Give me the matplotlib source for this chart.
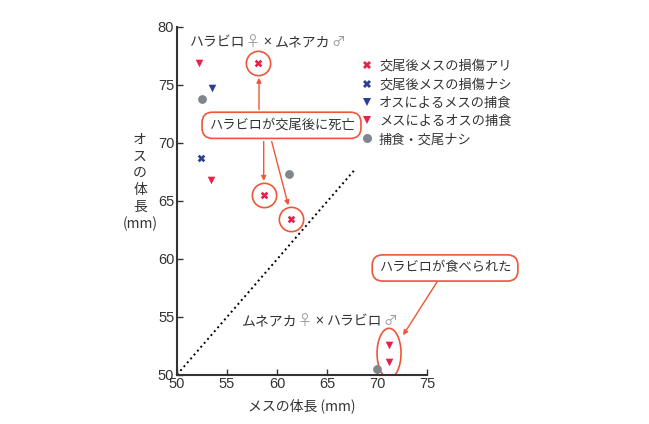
import matplotlib
matplotlib.use("Agg")
import matplotlib.pyplot as plt
from matplotlib.patches import Ellipse
from matplotlib.lines import Line2D

plt.rcParams['font.family'] = ['Noto Sans CJK JP', 'DejaVu Sans']

# data (mm)
injured_f = [58.1, 58.7, 61.4]          # 交尾後メスの損傷アリ
injured_m = [76.9, 65.5, 63.4]
uninjured_f = [52.4]                     # 交尾後メスの損傷ナシ
uninjured_m = [68.7]
male_eats_f = [53.5]                     # オスによるメスの捕食
male_eats_m = [74.7]
female_eats_f = [52.2, 53.4, 71.2, 71.2] # メスによるオスの捕食
female_eats_m = [76.9, 66.8, 52.6, 51.1]
none_f = [52.5, 61.2, 70.0]              # 捕食・交尾ナシ
none_m = [73.8, 67.3, 50.5]

RED = '#e8204a'
BLUE = '#2b3f98'
GRAY = '#80868c'
EDGE = '#f0553a'
TXT = '#333333'
SYM = '#9a9a9a'
FS = 9.5

fig = plt.figure(figsize=(6.49, 4.24), dpi=100)
ax = fig.add_axes([0.2727, 0.1163, 0.3853, 0.8207])

ax.plot([50, 67.8], [50, 67.7], ls=':', color='black', lw=1.4)

ax.scatter(injured_f, injured_m, marker='X', s=30, color=RED, linewidths=0, zorder=3)
ax.scatter(uninjured_f, uninjured_m, marker='X', s=30, color=BLUE, linewidths=0, zorder=3)
ax.scatter(male_eats_f, male_eats_m, marker='v', s=30, color=BLUE, linewidths=0, zorder=3)
ax.scatter(female_eats_f, female_eats_m, marker='v', s=30, color=RED, linewidths=0, zorder=3)
ax.scatter(none_f, none_m, marker='o', s=40, color=GRAY, linewidths=0, zorder=3, clip_on=False)

# circles around injured points
ax.plot(injured_f, injured_m, ls='none', marker='o', ms=17.5, mfc='none',
        mec=EDGE, mew=1.2, zorder=2)
ax.add_patch(Ellipse((71.2, 51.85), 2.4, 4.3, fill=False, ec=EDGE, lw=1.2))

ax.set_xlim(50, 75)
ax.set_ylim(50, 80)
ax.set_xticks([50, 55, 60, 65, 70, 75])
ax.set_yticks([50, 55, 60, 65, 70, 75, 80])
for s in ['top', 'right']:
    ax.spines[s].set_visible(False)
for s in ['left', 'bottom']:
    ax.spines[s].set_linewidth(1.5)
    ax.spines[s].set_color(TXT)
ax.tick_params(direction='in', length=4, width=1, colors=TXT, labelsize=10.5, pad=2)
for lab in ax.get_xticklabels() + ax.get_yticklabels():
    lab.set_fontfamily('Liberation Sans')

ax.set_xlabel('メスの体長 (mm)', fontsize=FS + 0.5, color=TXT, labelpad=5)
fig.text(140 / 649, 1 - 182 / 424, 'オ\nス\nの\n体\n長\n(mm)', fontsize=FS + 0.5, color=TXT,
         ha='center', va='center', linespacing=1.25)

# annotation boxes
bbox = dict(boxstyle='round,pad=0.5,rounding_size=0.8', fc='white', ec=EDGE, lw=1.2)
ax.text(60.45, 71.5, 'ハラビロが交尾後に死亡', fontsize=FS, color=TXT,
        ha='center', va='center', bbox=bbox, zorder=4)
ax.text(76.8, 59.2, 'ハラビロが食べられた', fontsize=FS, color=TXT,
        ha='center', va='center', bbox=bbox, zorder=4)

arrow = dict(arrowstyle='-|>', color=EDGE, lw=1.0, mutation_scale=7, shrinkA=0, shrinkB=0)
for start, end in [((58.2, 72.85), (58.2, 75.6)),
                   ((58.67, 70.1), (58.67, 66.7)),
                   ((59.47, 70.1), (61.13, 64.6)),
                   ((76.0, 58.0), (72.6, 53.4))]:
    ax.annotate('', xy=end, xytext=start, arrowprops=arrow, annotation_clip=False, zorder=3)


# cross labels with lighter sex symbols and a small bold ×
def rich(x, y, parts):
    fig.canvas.draw()
    r = fig.canvas.get_renderer()
    px = x
    for txt, col, size, weight, gap in parts:
        t = fig.text(px / 649, 1 - y / 424, txt, fontsize=size, color=col,
                     fontweight=weight, va='center', ha='left')
        px += t.get_window_extent(r).width + gap


def cross(a, b):
    return [(a, TXT, 10, 'normal', 0), ('♀', SYM, 10, 'normal', 3),
            ('×', TXT, 7, 'bold', 3), (b, TXT, 10, 'normal', 1), ('♂', SYM, 10, 'normal', 0)]


rich(190, 42, cross('ハラビロ', 'ムネアカ'))
rich(242, 321, cross('ムネアカ', 'ハラビロ'))

handles = [
    Line2D([], [], ls='none', marker='X', color=RED, mew=0, ms=6),
    Line2D([], [], ls='none', marker='X', color=BLUE, mew=0, ms=6),
    Line2D([], [], ls='none', marker='v', color=BLUE, mew=0, ms=6),
    Line2D([], [], ls='none', marker='v', color=RED, mew=0, ms=6),
    Line2D([], [], ls='none', marker='o', color=GRAY, mew=0, ms=6.5),
]
labels = ['交尾後メスの損傷アリ', '交尾後メスの損傷ナシ', 'オスによるメスの捕食',
          'メスによるオスの捕食', '捕食・交尾ナシ']
leg = fig.legend(handles, labels, loc='upper left', bbox_to_anchor=(362 / 649, 1 - 60 / 424),
                 frameon=False, fontsize=FS, handlelength=0.8, handletextpad=0.5,
                 labelspacing=0.4, borderpad=0, borderaxespad=0)
for t in leg.get_texts():
    t.set_color(TXT)

fig.savefig('out.png', dpi=100)
